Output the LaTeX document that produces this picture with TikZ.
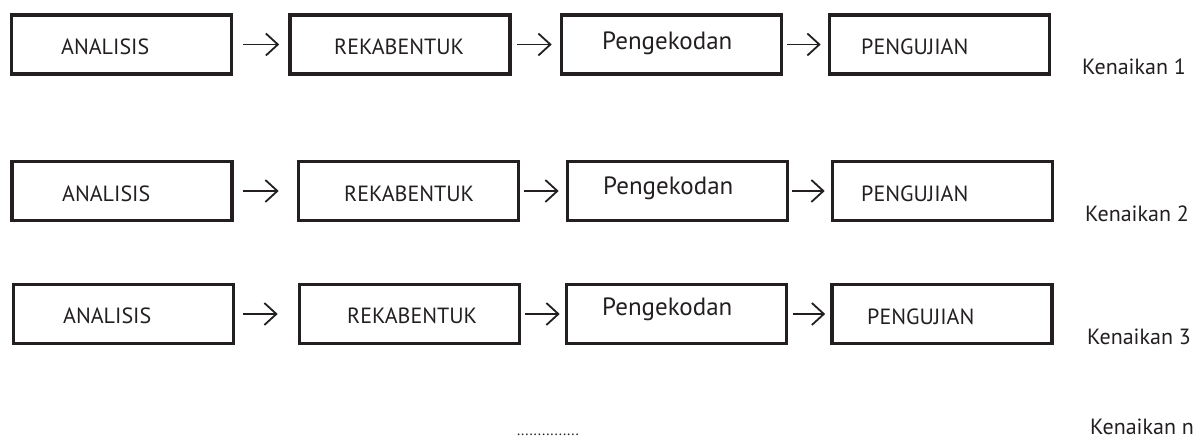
\documentclass[tikz,border=0pt]{standalone}
\usepackage{fontspec}
\setmainfont{PT Sans}
\usetikzlibrary{arrows.meta}
\definecolor{ink}{HTML}{231F20}
\tikzset{
  stage/.style={draw=ink, line width=3.6bp, minimum width=220bp, minimum height=59bp, inner sep=0pt},
  lbl/.style={anchor=base west, inner sep=0pt, text=ink, font=\fontsize{22bp}{26bp}\selectfont},
  big/.style={lbl, font=\fontsize{25bp}{30bp}\selectfont},
  dots/.style={lbl, font=\fontsize{15bp}{18bp}\selectfont},
  flow/.style={draw=ink, line width=1.8bp, -{Straight Barb[length=12bp,width=22bp]}},
}
\begin{document}
\begin{tikzpicture}[x=1bp,y=-1bp]
\useasboundingbox (0,0) rectangle (1199,439);
% row 1
\node[stage] (a1) at (121.5,44.5) {};
\node[stage] (b1) at (400,44.5) {};
\node[stage] (c1) at (671.5,44.5) {};
\node[stage] (d1) at (939.5,44.5) {};
\node[lbl] (ta1) at (61,55) {ANALISIS};
\node[lbl] (tb1) at (334,55) {REKABENTUK};
\node[big] (tc1) at (602,50) {Pengekodan};
\node[lbl] (td1) at (861,55) {PENGUJIAN};
\node[lbl] (k1) at (1082,75) {Kenaikan 1};
\draw[flow, shorten <=10bp, shorten >=9bp] (a1) -- (b1);
\draw[flow, shorten <=5bp, shorten >=8bp] (b1) -- (c1);
\draw[flow, shorten <=4bp, shorten >=7bp] (c1) -- (d1);
% row 2
\node[stage] (a2) at (122,191) {};
\node[stage] (b2) at (408.5,191) {};
\node[stage] (c2) at (677.5,191) {};
\node[stage] (d2) at (942.5,191) {};
\node[lbl] (ta2) at (62,202) {ANALISIS};
\node[lbl] (tb2) at (344,202) {REKABENTUK};
\node[big] (tc2) at (603,195) {Pengekodan};
\node[lbl] (td2) at (861,202) {PENGUJIAN};
\node[lbl] (k2) at (1085,222) {Kenaikan 2};
\draw[flow, shorten <=9bp, shorten >=18bp] (a2) -- (b2);
\draw[flow, shorten <=4bp, shorten >=7bp] (b2) -- (c2);
\draw[flow, shorten <=3bp, shorten >=6bp] (c2) -- (d2);
% row 3
\node[stage] (a3) at (123.5,314) {};
\node[stage] (b3) at (409.5,314) {};
\node[stage] (c3) at (676.5,314) {};
\node[stage] (d3) at (942,314) {};
\node[lbl] (ta3) at (63,324) {ANALISIS};
\node[lbl] (tb3) at (347,324) {REKABENTUK};
\node[big] (tc3) at (602,316) {Pengekodan};
\node[lbl] (td3) at (867,325) {PENGUJIAN};
\node[lbl] (k3) at (1087,345) {Kenaikan 3};
\draw[flow, shorten <=8bp, shorten >=20bp] (a3) -- (b3);
\draw[flow, shorten <=4bp, shorten >=5bp] (b3) -- (c3);
\draw[flow, shorten <=5bp, shorten >=5bp] (c3) -- (d3);
% last
\node[dots, anchor=base east] (dd) at (579,436) {...............};
\node[lbl] (kn) at (1090,435) {Kenaikan n};
\end{tikzpicture}
\end{document}
